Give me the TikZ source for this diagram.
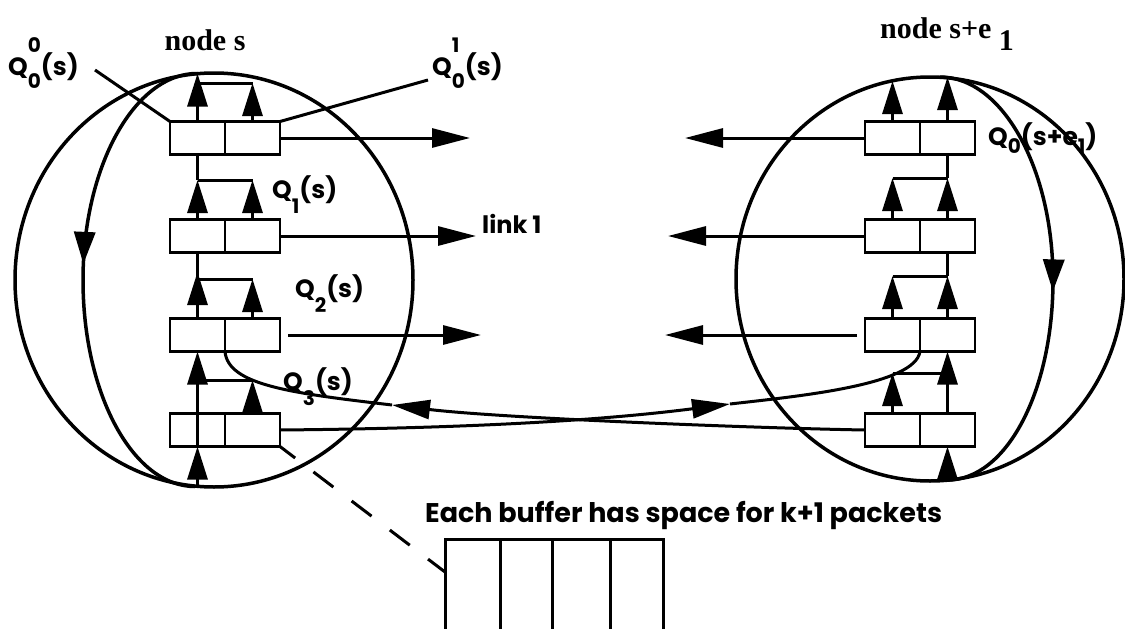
\documentclass[tikz,border=0pt]{standalone}
\usepackage{fontspec}
\usetikzlibrary{arrows.meta,decorations.markings}
\newfontfamily\labf{Poppins}
\newfontfamily\nodef{Liberation Serif}
\newcommand{\lsub}[2][-0.62em]{\raisebox{#1}{\fontsize{20}{20}\selectfont #2}}
\newcommand{\lsubsup}[2]{\rlap{\raisebox{0.9em}{\fontsize{20}{20}\selectfont #2}}\raisebox{-0.55em}{\fontsize{20}{20}\selectfont #1}}
\begin{document}
\begin{tikzpicture}[x=1pt,y=-1pt,
  ln/.style={line width=3pt},
  circ/.style={line width=3.5pt},
  cell/.style={draw, line width=2.7pt, minimum width=55pt, minimum height=33pt, inner sep=0pt, outer sep=0pt},
  arr/.style={ln, -{Triangle[length=38pt,width=19pt]}},
  varr/.style={ln, -{Triangle[length=33pt,width=20pt]}},
  lab/.style={font=\labf\bfseries\fontsize{25}{25}\selectfont, inner sep=0pt, anchor=base west},
  ttl/.style={font=\nodef\bfseries\fontsize{30}{30}\selectfont, inner sep=0pt},
  downmark/.style={postaction={decorate}, decoration={markings, mark=at position #1 with {\arrow{Triangle[length=32pt,width=21pt]}}}}
]
\useasboundingbox (0,0) rectangle (1125,629);

% ---------- circles ----------
\draw[circ] (214,280) ellipse [x radius=199pt, y radius=207pt];
\draw[circ] (930,279) ellipse [x radius=194pt, y radius=202pt];
\coordinate (LT) at (197.5,73.5);
\coordinate (LB) at (197.5,486.5);
\coordinate (LBi) at (195,486.5);
\coordinate (RT) at (940,77);
\coordinate (RTa) at (892.5,81);
\coordinate (RTb) at (947.5,77);
\coordinate (RB) at (947.5,480);
\draw[circ, downmark=0.47] (LT) .. controls (135,73) and (83,166) .. (83,280) .. controls (83,394) and (133,486.5) .. (LBi);
\draw[circ, downmark=0.53] (RT) .. controls (1002,77) and (1053,168) .. (1053,280) .. controls (1053,392) and (1006,480) .. (RB);

% ---------- buffer cells ----------
\foreach \i/\y in {0/138,1/236,2/335,3/430}{
  \node[cell] (L\i a) at (197.5,\y) {};
  \node[cell] (L\i b) at (252.5,\y) {};
  \node[cell] (R\i a) at (892.5,\y) {};
  \node[cell] (R\i b) at (947.5,\y) {};
}

% ---------- left node internal flow ----------
\coordinate (LJ0) at (252.5,83);
\coordinate (LJ1) at (252.5,180);
\coordinate (LJ2) at (252.5,279);
\coordinate (LJ3) at (252.5,380);
\draw[varr] (L0a.north) -- (LT);
\draw[varr] (L0b.north) -- (LJ0);
\draw[ln] (LJ0) -- (L0a.north |- LJ0);
\draw[varr] (L1a.north) -- (L1a.north |- LJ1);
\draw[ln] (L1a.north |- LJ1) -- (L0a.south);
\draw[ln] (L1a.north |- LJ1) -- (LJ1);
\draw[varr] (L1b.north) -- (LJ1);
\draw[varr] (L2a.north) -- ([yshift=7pt]L2a.north |- LJ2);
\draw[ln] (L2a.north |- LJ2) -- (L1a.south);
\draw[ln] (L2a.north |- LJ2) -- (LJ2);
\draw[varr] (L2b.north) -- (LJ2);
\draw[varr] (L3a.north) -- (L2a.south);
\draw[ln] (L3a.north |- LJ3) -- (LJ3);
\draw[varr] (L3b.north) -- (LJ3);
\draw[varr] (LB) -- (L3a.south);
\draw[ln] (L3a.south) -- (L3a.north);

% ---------- right node internal flow ----------
\coordinate (RJ1) at (892.5,178);
\coordinate (RJ2) at (892.5,276);
\coordinate (RJ3) at (892.5,373);
\draw[varr] (R0a.north) -- (RTa);
\draw[varr] (R0b.north) -- (RTb);
\draw[varr] (R1b.north) -- (R1b.north |- RJ1);
\draw[ln] (R1b.north |- RJ1) -- (R0b.south);
\draw[ln] (RJ1) -- (R1b.north |- RJ1);
\draw[varr] (R1a.north) -- (RJ1);
\draw[varr] (R2b.north) -- (R2b.north |- RJ2);
\draw[ln] (R2b.north |- RJ2) -- (R1b.south);
\draw[ln] (RJ2) -- (R2b.north |- RJ2);
\draw[varr] (R2a.north) -- (RJ2);
\draw[varr] (R3b.north) -- (R2b.south);
\draw[ln] (RJ3) -- (R3b.north |- RJ3);
\draw[varr] (R3a.north) -- (RJ3);
\draw[varr] (RB) -- (R3b.south);

% ---------- links ----------
\coordinate (A0) at (470,138);
\coordinate (A1) at (476,236);
\coordinate (A2) at (481,335);
\coordinate (B0) at (685,138);
\coordinate (B1) at (668,236);
\coordinate (B2) at (665,335);
\draw[arr] (L0b.east) -- (A0);
\draw[arr] (L1b.east) -- (A1);
\draw[arr] ([xshift=8pt]L2b.east) -- (A2);
\draw[arr] (R0a.west) -- (B0);
\draw[arr] (R1a.west) -- (B1);
\draw[arr] ([xshift=-8pt]R2a.west) -- (B2);

\coordinate (X1) at (730,404);
\coordinate (X2) at (392,405);
\draw[arr] (L3b.east) .. controls (500,428) and (620,418) .. (X1);
\draw[ln] (X1) .. controls (800,396) and (915,385) .. (R2a.south east);
\draw[arr] (R3a.west) .. controls (750,428) and (500,418) .. (X2);
\draw[ln] (X2) .. controls (290,393) and (228,385) .. (L2a.south east);

% ---------- big buffer ----------
\coordinate (BL) at (445,572);
\draw[ln, dash pattern=on 25pt off 23pt, dash phase=6pt] (L3b.south east) -- (BL);
\draw[ln] (445,640) -- (445,539) -- (663,539) -- (663,640);
\foreach \x in {500,552,610} \draw[ln] (\x,539) -- (\x,640);

% ---------- labels ----------
\node[ttl, anchor=base] (ns) at (205,50) {node s};
\node[ttl, anchor=base west] (ne) at (880,38) {node s+e \raisebox{-12pt}{1}};
\node[lab] (q00) at (8,75) {Q\lsubsup{0}{0}(s)};
\node[lab] (q01) at (432,75) {Q\lsubsup{0}{1}(s)};
\node[lab] (q1) at (272,198) {Q\lsub{1}(s)};
\node[lab] (q2) at (295,297) {Q\lsub{2}(s)};
\node[lab] (q3) at (283,390) {Q\lsub{3}(s)};
\node[lab] (q0e) at (988,145) {Q\lsub[-0.35em]{0}(s+e\lsub[-0.35em]{1})};
\node[lab, font=\labf\bfseries\fontsize{24}{24}\selectfont] (lk) at (482,233) {link 1};
\node[lab, font=\labf\bfseries\fontsize{27}{27}\selectfont] (note) at (425,522) {Each buffer has space for k+1 packets};
\coordinate (P0) at (95,70);
\coordinate (P1) at (428,80);
\draw[ln] (P0) -- (L0a.north west);
\draw[ln] (L0b.north east) -- (P1);
\end{tikzpicture}
\end{document}
